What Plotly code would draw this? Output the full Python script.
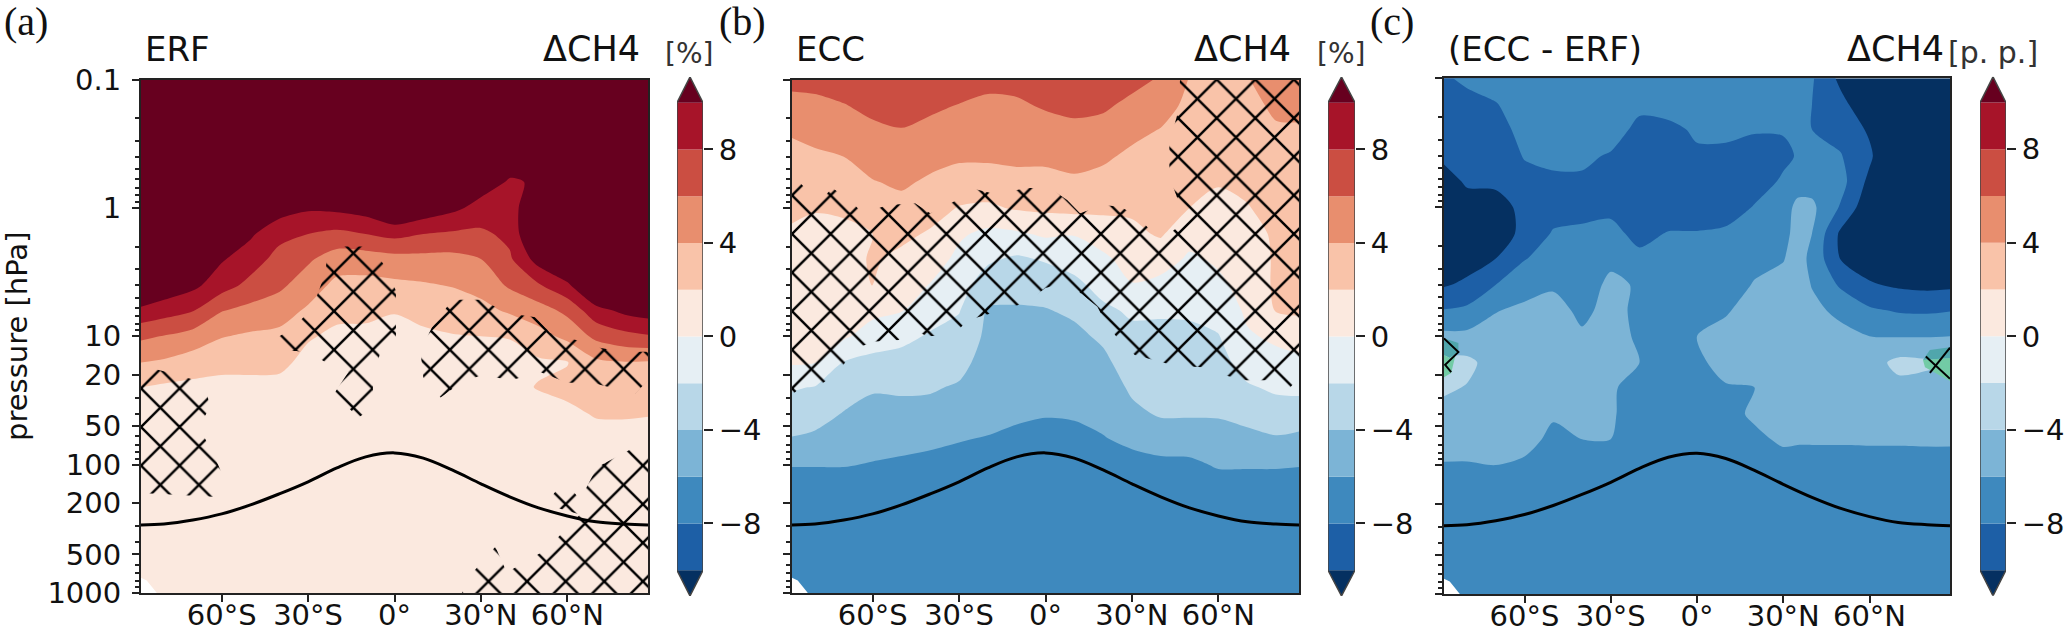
import numpy as np
import plotly.graph_objects as go

W = 2067
H = 633

lat = [-88,-80,-70,-60,-50,-40,-30,-20,-10,0,10,20,30,40,50,60,70,80,88]
lat_diff = [-88,-80,-70,-60,-50,-40,-30,-20,-10,0,10,20,30,35,40,50,60,70,80,88]
pres = [0.1,0.16,0.25,0.4,0.63,1,1.6,2.5,4,6.3,10,16,25,40,63,100,160,250,400,630,1000]

# one list per latitude, top of the atmosphere first
erf_by_lat = [
 [14,14,14,14,14,14,14,14,13,9.5,6.4,4,2,1,1,1,1,1,1,1,1],
 [14,14,14,14,14,14,14,14,11.5,8.9,5.9,3.7,1.7,1,1,1,1,1,1,1,1],
 [14,14,14,14,14,14,14,13,10.5,8.1,5.2,3,1.5,1,1,1,1,1,1,1,1],
 [14,14,14,14,14,14,12,10.2,8.9,6.1,4.1,2.6,1.4,1,1,1,1,1,1,1,1],
 [14,14,14,14,14,12,10.3,9,7.4,5.4,3.7,2.6,1.4,1,1,1,1,1,1,1,1],
 [14,14,14,14,13,11,8.6,7.3,6.4,4.9,3.5,2.5,1.4,1,1,1,1,1,1,1,1],
 [14,14,14,14,13,10.3,8,6.3,5,3.7,2.2,1.4,1,1,1,1,1,1,1,1,1],
 [14,14,14,14,13,10.5,7.5,5,3.5,2.5,1.6,1.2,1,1,1,1,1,1,1,1,1],
 [14,14,14,14,13,11,8,5,3.4,2.4,1.6,1.2,1,1,1,1,1,1,1,1,1],
 [14,14,14,14,14,12.5,8.6,5.3,3.6,2.1,1.4,1,1,1,1,1,1,1,1,1,1],
 [14,14,14,14,13,11.5,8,5.4,3.8,2.5,1.7,1.3,1,1,1,1,1,1,1,1,1],
 [14,14,14,14,13,10.5,7.7,5.4,4.1,2.9,1.9,1.3,1,1,1,1,1,1,1,1,1],
 [14,14,14,13,11,9.3,7.6,6,4.7,3.4,2,1.4,1.1,1,1,1,1,1,1,1,1],
 [14,14,14,11,9.8,9.1,8.5,7.7,6.3,4.3,2.1,1.3,1.5,1.1,1,1,1,1,1,1,1],
 [14,14,14,11,10.2,12,13,10.9,7.8,5.1,3.3,1.7,2.1,1.3,1,1,1,1,1,1,1],
 [14,14,14,14,14,14,14,13,9.6,6.5,4.5,1.9,2.6,1.5,1,1,1,1,1,1,1],
 [14,14,14,14,14,14,14,14,13,9.3,6.5,3.6,3,2.2,1.2,1,1,1,1,1,1],
 [14,14,14,14,14,14,14,14,13,10.5,7.4,3.9,3.1,2.2,1.3,1,1,1,1,1,1],
 [14,14,14,14,14,14,14,14,14,11,7.8,3.8,3.1,2.1,1.3,1,1,1,1,1,1],
]
ecc_by_lat = [
 [6.5,5.4,4.2,3.5,2.9,2.3,1.8,1.4,1.1,.8,.4,.2,-1.8,-3,-4.1,-5.9,-7,-7,-7,-7,-7],
 [6.5,5.6,4.6,3.7,2.9,2.1,1.6,1.3,1,.7,.35,.05,-2.1,-3.2,-4.4,-5.9,-7,-7,-7,-7,-7],
 [7,5.9,5,4,3.1,2.2,1.7,1.3,1,.7,.3,-2.1,-3.1,-4.1,-5,-5.9,-7,-7,-7,-7,-7],
 [7.2,6.5,5.6,4.8,3.9,2.6,2,2.2,2.1,.5,-.9,-2.6,-3.8,-4.6,-5.3,-6.1,-7,-7,-7,-7,-7],
 [7.5,6.8,5.9,5.1,4.3,3.4,2.4,1.6,1,.1,-1.5,-2.7,-3.7,-4.6,-5.4,-6.3,-7,-7,-7,-7,-7],
 [7.3,6.4,5.4,4.6,3.7,2.7,1.8,1,-.1,-1.2,-2.2,-3,-3.8,-4.6,-5.6,-6.5,-7,-7,-7,-7,-7],
 [7.2,5.9,5,4.3,3.1,1.9,.3,-.5,-1.2,-1.9,-2.7,-3.4,-4.2,-5,-5.9,-6.6,-7,-7,-7,-7,-7],
 [6.5,5.6,4.9,4.3,3.1,1.7,-.5,-1.7,-3,-4.2,-4.4,-4.8,-5.1,-5.4,-6.1,-6.7,-7,-7,-7,-7,-7],
 [6.6,5.7,5,4.4,3.4,2.2,-.3,-2.3,-3.3,-4.2,-4.5,-4.8,-5.2,-5.7,-6.4,-6.9,-7,-7,-7,-7,-7],
 [7.5,6.2,5.2,4.4,3.4,2.4,.3,-1.8,-3.2,-4.1,-4.5,-4.9,-5.3,-5.9,-6.5,-7,-7,-7,-7,-7,-7],
 [7.6,6.5,5.5,4.6,3.7,2.6,.1,-1.2,-2.5,-3.7,-4.4,-4.8,-5.3,-5.8,-6.5,-7,-7,-7,-7,-7,-7],
 [7.5,6.3,5.3,4.3,3.4,2.4,1,-.4,-1.3,-2.4,-3.7,-4.4,-5,-5.5,-6.1,-6.8,-7,-7,-7,-7,-7],
 [6.6,5.5,4.5,3.6,3,2.3,1.6,.8,-.1,-1.7,-2.5,-3.1,-3.7,-4.4,-5.6,-6.6,-7,-7,-7,-7,-7],
 [5.8,4.8,3.9,3.4,3,2.6,2.2,.9,-.6,-1.8,-2.4,-2.9,-3.3,-3.8,-5,-6.5,-7,-7,-7,-7,-7],
 [3.9,3.5,3.1,2.8,2.4,2,.7,-.3,-1,-1.8,-2.3,-2.8,-3.2,-3.8,-5,-6.4,-7,-7,-7,-7,-7],
 [3.7,3.2,2.9,2.5,2.1,1.6,.9,.3,-.4,-1.2,-2.1,-2.7,-3.3,-3.8,-4.8,-5.8,-7,-7,-7,-7,-7],
 [3.9,3.5,3.2,2.8,2.4,1.9,1.5,1.1,.7,.3,-.2,-1.2,-2.2,-3.4,-4.5,-5.8,-7,-7,-7,-7,-7],
 [4.9,4.3,3.8,3.4,3,2.6,2.2,2.2,2.3,2.1,.3,-.5,-1.7,-2.8,-4.2,-5.8,-7,-7,-7,-7,-7],
 [5.1,4.4,3.8,3.5,3.2,2.9,2.8,3.1,3.4,2.3,.8,-.4,-1.6,-2.8,-4.5,-5.9,-7,-7,-7,-7,-7],
]
diff_by_lat = [
 [-8.2,-8.6,-9.1,-9.7,-10.6,-11.2,-11.5,-11,-10.2,-7.9,-5.5,-3.5,-3.7,-4.6,-5.3,-6.1,-7,-7,-7,-7,-7],
 [-7.7,-8.5,-9,-9.4,-9.8,-10.6,-11.2,-10.9,-9.6,-7.6,-5.5,-3.5,-4.1,-4.8,-5.4,-6.1,-7,-7,-7,-7,-7],
 [-7.2,-8.1,-8.6,-9,-9.7,-10.6,-10.8,-10,-8,-6.1,-5.2,-4.9,-5,-5.2,-5.5,-6,-7,-7,-7,-7,-7],
 [-6.8,-7.1,-7.5,-7.9,-8.5,-9.6,-9.6,-8.1,-6.8,-5.6,-4.9,-4.8,-5,-5.2,-5.4,-6.3,-7,-7,-7,-7,-7],
 [-6.5,-6.8,-7.1,-7.6,-8.3,-8.9,-7.8,-7.2,-6.3,-5.2,-4.8,-4.7,-5,-5.8,-6.4,-6.7,-7,-7,-7,-7,-7],
 [-6.5,-6.8,-7.1,-7.6,-8.3,-8.5,-7.7,-7.3,-6.9,-6.5,-5.7,-5,-5,-5.4,-6,-6.6,-7,-7,-7,-7,-7],
 [-6.3,-6.6,-7,-8.2,-8.7,-8.4,-7.5,-6.4,-5.6,-5.3,-5,-5.3,-5.9,-5.9,-6,-6.6,-7,-7,-7,-7,-7],
 [-6.2,-7.5,-8.6,-8.9,-9.1,-9.1,-8.5,-7.6,-6.2,-6.5,-6.4,-6,-6.3,-6.4,-6.5,-6.8,-7,-7,-7,-7,-7],
 [-6.3,-7.2,-8.5,-8.9,-9.2,-9,-7.9,-7.2,-6.9,-6.7,-6.5,-6.5,-6.6,-6.7,-6.8,-6.9,-7,-7,-7,-7,-7],
 [-6.2,-7,-7.7,-8.3,-8.7,-8.9,-7.9,-7.2,-6.9,-6.2,-6,-6.5,-6.7,-6.8,-6.9,-7,-7,-7,-7,-7,-7],
 [-6.2,-6.6,-7.6,-8.4,-8.8,-8.8,-7.7,-7.2,-6.7,-6.2,-5.4,-5.1,-6.2,-6.6,-6.7,-6.9,-7,-7,-7,-7,-7],
 [-6,-6.7,-7.9,-8.5,-8.7,-7.9,-7.4,-6.4,-5.9,-5.2,-5,-5.1,-6,-5.7,-6.4,-6.8,-7,-7,-7,-7,-7],
 [-6,-6.7,-7.9,-8.3,-7.8,-7.2,-6.7,-6.1,-5.4,-4.9,-4.7,-4.8,-4.8,-4.9,-5.7,-6.7,-7,-7,-7,-7,-7],
 [-6.3,-6.9,-7.6,-7.9,-7.2,-5.3,-5.2,-5.2,-5,-4.9,-4.8,-4.7,-4.7,-4.9,-5.8,-6.7,-7,-7,-7,-7,-7],
 [-7.8,-8,-8,-7.3,-6.8,-5.6,-6,-6.5,-6.1,-5.5,-5,-4.7,-4.7,-4.9,-5.8,-6.7,-7,-7,-7,-7,-7],
 [-10.5,-9.4,-8.6,-7.9,-7.3,-8.2,-10.4,-10.1,-8.3,-6.5,-5.4,-4.7,-4.6,-4.8,-5.8,-6.7,-7,-7,-7,-7,-7],
 [-12,-11.5,-10.3,-9.6,-10.5,-11.5,-12,-11,-9.8,-7.7,-6,-4.8,-4.6,-4.8,-5.8,-6.6,-7,-7,-7,-7,-7],
 [-13,-13,-13,-13,-13,-13,-13,-12,-10.3,-8.2,-6.1,-3.5,-4.5,-4.8,-5.8,-6.6,-7,-7,-7,-7,-7],
 [-13,-13,-13,-13,-13,-13,-13,-12,-10.5,-8.3,-6.1,-3.7,-4.6,-4.8,-5.8,-6.5,-7,-7,-7,-7,-7],
 [-13,-13,-13,-13,-13,-13,-13,-12,-10.4,-8.1,-6,-4,-4.8,-4.9,-5.8,-6.5,-7,-7,-7,-7,-7],
]

tropopause = [295,290,270,242,206,169,136,106,87,81,89,110,141,178,217,251,279,290,295]

# non-significant regions (hatched)
erf_hatch = [
 ([-88,-79,-66,-64,-68,-63,-60,-63,-88],
  [17,19,23,35.5,51,81,116,178,166]),
 ([-19,-9,-4,0.5,0.5,-5,-7.5,-7.5,-12.5,-21,-16,-22,-28,-34,-36,-41,-35,-30,-27,-24,-23.5],
  [2,2,2.7,4.4,12,13.5,22,36,43,28,19,17,14,13,13,10.3,8.6,6.5,4.9,3.2,2.5]),
 ([20.3,30.4,39,49,54,63,69,78.6,88,88,83.5,74,68.6,60,50.5,40.5,30.4,23,16,10,9,13,17.5],
  [5.2,5.2,6.6,7.1,9.4,10.7,12,13.2,13.2,22,28,24.5,23,23,19,22,20,23,30,21,13,8.5,6.2]),
 ([88,88,23.4,24,35,39,52.6,57.5,64.4,52.3,56.4,61.6,64.4,70.3,77.2,83.5],
  [87,1000,1000,832,437,692,461,355,245,204,157,157,188,105,87,73]),
]
ecc_hatch = [
 ([46.7,88,88,83,78,68.6,59.5,54.7,45,31,26,21.4,18,7.5,0,-6.4,-12.3,-27,-32,-41,-46,-51,-59,-65.5,-72.4,-79.3,-83,-88,
   -88,-86,-83,-78,-74,-68,-63.4,-54.7,-45.3,-40,-30.7,-26,-16.5,-7,1.5,7.5,12,20,26,31,40,46,46,43,43,46],
  [.1,.1,21,28,22,22,19.3,17.4,17,14,11,8.2,5.9,3.8,4.2,5.4,6,7.5,9.8,10,8.9,10.7,11,12.3,19.3,25,22.7,28.7,
   .61,.61,.72,.87,.7,.87,1.1,.95,.92,1.1,.87,.7,.79,.7,.7,.87,1.1,.95,.98,1.13,1.78,1.41,.87,.575,.31,.18]),
]
missing_lat = [-88,-88,-86,-84,-82.5]
missing_p = [1000,760,800,900,1000]

# small teal / green spots at the edges of panel c
teal_spots = [([-88,-83,-83,-86,-88],[10.4,11.3,13.3,14.8,14]),
              ([78.6,81,88,88],[15.3,12.8,12.2,14.8])]
green_spots = [([-88,-86,-84,-85.5,-88],[14,14.8,14,19.3,20.8]),
               ([78.6,88,88,82.8,79.3],[15.3,14.8,22.3,19.3,17.4])]
diff_cross_lat = [-88,-83,-87.6,-85.5,None,79.6,88,None,88,81]
diff_cross_p = [10.4,13.3,16.7,19,None,14.4,21.4,None,12.3,19.3]

levels = [-10,-8,-6,-4,-2,0,2,4,6,8,10]
level_colors = ['#1d5fa6','#3e89be','#7cb4d6','#b8d7e8','#e6eff4','#fbe9df','#f9c3a9','#e88e6e','#cb4e42','#a71429']
under_color = '#053061'
over_color = '#67001f'

lat_ticks = [-60,-30,0,30,60]
lat_labels = ['60°S','30°S','0°','30°N','60°N']
p_ticks = [0.1,1,10,20,50,100,200,500,1000]
p_minor = [.2,.3,.4,.5,.6,.7,.8,.9,2,3,4,5,6,7,8,9,30,40,60,70,80,90,300,400,600,700,800,900]
cbar_ticks = [-8,-4,0,4,8]

FONT = 'DejaVu Sans'
hatch = dict(shape='x', size=27.3, solidity=0.17, fgcolor='black', fgopacity=1, bgcolor='rgba(0,0,0,0)')

# stepped colorscale: plotly evaluates a band [L, L+2] at (L+12)/22
all_colors = [under_color]+level_colors+[over_color]
n = len(all_colors)-1
stepped = []
for i, c in enumerate(all_colors):
    stepped.append([max((i-0.5)/n,0),c])
    stepped.append([min((i+0.5)/n,1),c])

# left, right, top, bottom of every panel in pixels, colorbar left, right
panels = [
 dict(name='a', lats=lat, field=erf_by_lat, hatch=erf_hatch, box=(141,648,79.5,593), cb=(677,703), left='ERF', right_end=642, unit='[%]', unit_x=689, unit_size=28, tag='(a)', tag_x=26),
 dict(name='b', lats=lat, field=ecc_by_lat, hatch=ecc_hatch, box=(792,1299,79.5,593), cb=(1328,1355), left='ECC', right_end=1293, unit='[%]', unit_x=1341, unit_size=28, tag='(b)', tag_x=742),
 dict(name='c', lats=lat_diff, field=diff_by_lat, hatch=[], box=(1444,1950,78.3,594), cb=(1980,2006), left='(ECC - ERF)', right_end=1946, unit='[p. p.]', unit_x=1993, unit_size=30, tag='(c)', tag_x=1392),
]

fig = go.Figure()
layout = dict(width=W, height=H, margin=dict(l=0,r=0,t=0,b=0,autoexpand=False), paper_bgcolor='white', plot_bgcolor='white',
              showlegend=False, barmode='overlay', font=dict(family=FONT,size=29,color='#111111'))
notes = []

for k, p in enumerate(panels):
    x0, x1, y0, y1 = p['box']
    xn, yn = 2*k+1, 2*k+1
    xa = 'x' if k == 0 else 'x%d' % xn
    ya = 'y' if k == 0 else 'y%d' % yn
    layout['xaxis' if k == 0 else 'xaxis%d' % xn] = dict(domain=[x0/W,x1/W], range=[-88,88], anchor=ya, tickvals=lat_ticks, ticktext=lat_labels,
        ticks='outside', ticklen=7, tickwidth=1.5, tickcolor='#222', showline=True, linecolor='#222', linewidth=2, mirror=True, showgrid=False, zeroline=False,
        ticklabelstandoff=-12)
    layout['yaxis' if k == 0 else 'yaxis%d' % yn] = dict(domain=[1-y1/H,1-y0/H], type='log', range=[3,-1], anchor=xa, tickvals=p_ticks,
        ticks='outside', ticklen=7, tickwidth=1.5, tickcolor='#222', showline=True, linecolor='#222', linewidth=2, mirror=True, showgrid=False, zeroline=False,
        showticklabels=(k == 0), ticklabelstandoff=5, minor=dict(ticks='outside', ticklen=4, tickvals=p_minor, tickcolor='#222', showgrid=False))
    fig.add_trace(go.Contour(x=p['lats'], y=pres, z=np.array(p['field']).T, xaxis=xa, yaxis=ya, autocontour=False,
        contours=dict(start=-10,end=10,size=2,coloring='fill',showlines=False), line=dict(width=0,smoothing=0.8),
        colorscale=stepped, showscale=False))
    fig.add_trace(go.Scatter(x=missing_lat, y=missing_p, xaxis=xa, yaxis=ya, mode='lines', fill='toself', fillcolor='white', line=dict(width=0)))
    for hx, hy in p['hatch']:
        fig.add_trace(go.Scatter(x=hx, y=hy, xaxis=xa, yaxis=ya, mode='lines', fill='toself', fillcolor='rgba(0,0,0,0)', fillpattern=hatch, line=dict(width=0)))
    if p['name'] == 'c':
        for sx, sy in teal_spots:
            fig.add_trace(go.Scatter(x=sx, y=sy, xaxis=xa, yaxis=ya, mode='lines', fill='toself', fillcolor='#50a6ac', line=dict(width=0)))
        for sx, sy in green_spots:
            fig.add_trace(go.Scatter(x=sx, y=sy, xaxis=xa, yaxis=ya, mode='lines', fill='toself', fillcolor='#72cba5', line=dict(width=0)))
        fig.add_trace(go.Scatter(x=diff_cross_lat, y=diff_cross_p, xaxis=xa, yaxis=ya, mode='lines', line=dict(color='black',width=2)))
    fig.add_trace(go.Scatter(x=lat, y=tropopause, xaxis=xa, yaxis=ya, mode='lines', line=dict(color='black',width=3,shape='spline')))

    # colorbar as its own little axes, with the extend triangles
    c0, c1 = p['cb']
    cx, cy = 'x%d' % (xn+1), 'y%d' % (yn+1)
    mid = (y0+y1)/2 + 0.2
    half = 259.5
    layout['xaxis%d' % (xn+1)] = dict(domain=[c0/W,c1/W], range=[0,1], anchor=cy, visible=False)
    layout['yaxis%d' % (yn+1)] = dict(domain=[1-(mid+half)/H,1-(mid-half)/H], range=[-11.1,11.1], anchor=cx, side='right', tickvals=cbar_ticks,
        ticks='outside', ticklen=9, tickwidth=1.5, tickcolor='#222', showline=False, showgrid=False, zeroline=False)
    fig.add_trace(go.Bar(x=[0.5]*len(level_colors), y=[2]*len(level_colors), base=levels[:-1], width=1, xaxis=cx, yaxis=cy,
                         marker=dict(color=level_colors,line=dict(width=0))))
    fig.add_trace(go.Scatter(x=[0,1,0.5,0], y=[10,10,11.1,10], xaxis=cx, yaxis=cy, mode='lines', fill='toself', fillcolor=over_color, line=dict(width=0)))
    fig.add_trace(go.Scatter(x=[0,1,0.5,0], y=[-10,-10,-11.1,-10], xaxis=cx, yaxis=cy, mode='lines', fill='toself', fillcolor=under_color, line=dict(width=0)))
    fig.add_trace(go.Scatter(x=[0,0,0.5,1,1,0.5,0], y=[-10,10,11.1,10,-10,-11.1,-10], xaxis=cx, yaxis=cy, mode='lines', line=dict(color='#444',width=1.5)))

    notes.append(dict(text=p['left'], xref='paper', yref='paper', x=(x0+2)/W, y=1-71/H, xanchor='left', yanchor='bottom', showarrow=False, font=dict(size=34)))
    notes.append(dict(text='ΔCH4', xref='paper', yref='paper', x=p['right_end']/W, y=1-71/H, xanchor='right', yanchor='bottom', showarrow=False, font=dict(size=35)))
    notes.append(dict(text=p['unit'], xref='paper', yref='paper', x=p['unit_x']/W, y=1-72/H, xanchor='center', yanchor='bottom', showarrow=False, font=dict(size=p['unit_size'],color='#333')))
    notes.append(dict(text=p['tag'], xref='paper', yref='paper', x=p['tag_x']/W, y=1-21/H, xanchor='center', yanchor='middle', showarrow=False, font=dict(family='Liberation Serif',size=40)))

notes.append(dict(text='pressure [hPa]', xref='paper', yref='paper', x=17/W, y=1-337/H, xanchor='center', yanchor='middle', textangle=-90, showarrow=False, font=dict(size=29)))
layout['annotations'] = notes
fig.update_layout(**layout)
# the page body has a default margin, drop it so the figure fills the window
fig.write_html("out.html", config=dict(displayModeBar=False), post_script="document.body.style.margin='0';document.body.style.overflow='hidden';")
